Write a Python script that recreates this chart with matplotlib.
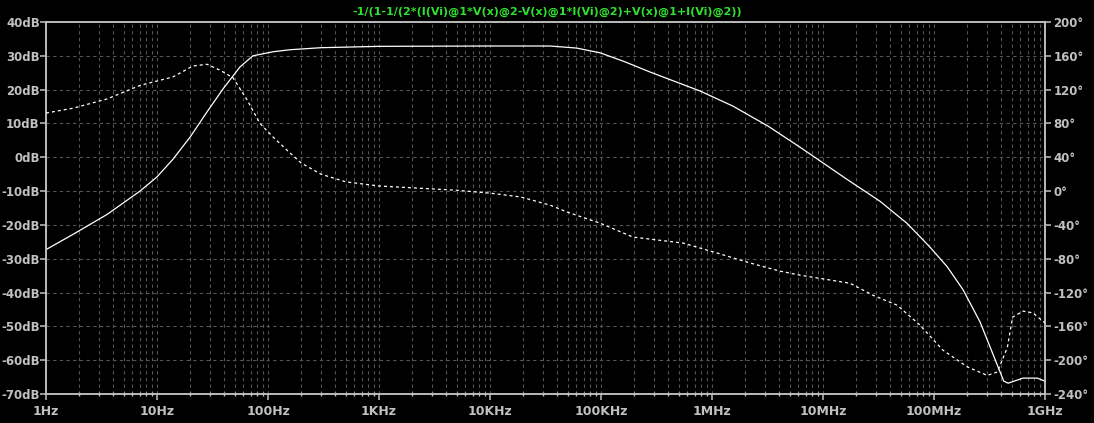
import numpy as np
import matplotlib
matplotlib.use("Agg")
import matplotlib.pyplot as plt
from matplotlib.ticker import FixedLocator, LogLocator, NullFormatter

# magnitude trace (solid)
mag_freq = [1, 1.75, 3.55, 7.03, 10, 13.9, 19.8, 28.2, 39.3, 55.9, 73, 111, 158,
            300, 1e3, 1e4, 3.47e4, 6e4, 9.8e4, 1.65e5, 2.77e5, 7.8e5, 1.55e6,
            3.2e6, 6.2e6, 1.64e7, 3.26e7, 5.7e7, 9.1e7, 1.31e8, 1.83e8, 2.6e8,
            3.81e8, 4.25e8, 4.66e8, 6.34e8, 8.5e8, 1e9]
mag_db = [-27.3, -22.8, -16.9, -10.0, -5.8, -0.6, 5.9, 13.4, 20.2, 26.7, 30.0, 31.2, 31.8,
          32.4, 32.8, 32.9, 32.9, 32.3, 30.9, 28.2, 25.2, 19.6, 15.1,
          9.2, 3.0, -6.5, -13.0, -19.5, -26.4, -32.3, -39.2, -48.7,
          -62.3, -66.2, -66.8, -65.3, -65.3, -66.2]

# phase trace (dashed), right axis
ph_freq = [1, 1.75, 3.55, 7.03, 13.9, 21.1, 28.2, 37, 48.4, 64.7, 84.7, 111, 158,
           200, 300, 500, 1e3, 5e3, 1e4, 1.9e4, 3.47e4, 5e4, 9.8e4, 1.94e5, 5.5e5,
           1.12e6, 2.2e6, 4.1e6, 6.2e6, 1.75e7, 2.8e7, 4.66e7, 7.4e7, 1.2e8,
           2e8, 3.02e8, 3.72e8, 4.58e8, 5.11e8, 6.34e8, 7.77e8, 1e9]
ph_deg = [92.3, 98, 109, 125, 135, 148, 150, 143, 134, 108, 80, 64, 45,
          33, 20, 11, 6, 1, -2.4, -7, -16.6, -25, -37.9, -54.4, -61.5,
          -73.4, -85, -94.7, -99.4, -109, -123, -135, -158, -188,
          -208, -218, -214, -185, -149, -142, -144, -156]

x_ticks = [1, 10, 100, 1e3, 1e4, 1e5, 1e6, 1e7, 1e8, 1e9]
x_labels = ["1Hz", "10Hz", "100Hz", "1KHz", "10KHz", "100KHz", "1MHz", "10MHz", "100MHz", "1GHz"]
db_ticks = list(range(-70, 41, 10))
deg_ticks = list(range(-240, 201, 40))

title = "-1/(1-1/(2*(I(Vi)@1*V(x)@2-V(x)@1*I(Vi)@2)+V(x)@1+I(Vi)@2))"

fg = "#c0c0c0"
grid_c = "#555555"
fig = plt.figure(figsize=(10.94, 4.23), dpi=100, facecolor="black")
ax = fig.add_axes([46 / 1094, 1 - 394 / 423, 999 / 1094, 372 / 423])
ax.set_facecolor("black")
ax.set_xscale("log")
ax.set_xlim(1, 1e9)
ax.set_ylim(-70, 40)

ax.xaxis.set_major_locator(FixedLocator(x_ticks))
ax.xaxis.set_minor_locator(LogLocator(base=10, subs=np.arange(2, 10), numticks=20))
ax.xaxis.set_minor_formatter(NullFormatter())
ax.set_xticks(x_ticks)
ax.set_xticklabels(x_labels)
ax.set_yticks(db_ticks)
ax.set_yticklabels([f"{v}dB" for v in db_ticks])

ax.grid(True, which="both", axis="x", color=grid_c, linestyle=(0, (3, 3)), linewidth=0.8)
ax.grid(True, which="major", axis="y", color=grid_c, linestyle=(0, (3, 3)), linewidth=0.8)

for sp in ax.spines.values():
    sp.set_color(fg)
    sp.set_linewidth(1.1)

ax.tick_params(axis="y", which="major", colors=fg, length=4, width=1.1, labelsize=8.5, pad=0.5)
ax.tick_params(axis="x", which="major", colors=fg, length=4.5, width=1.1, labelsize=9, pad=3.5)
ax.tick_params(axis="x", which="minor", colors=fg, length=3, width=1, direction="inout")
for t in ax.get_xticklabels() + ax.get_yticklabels():
    t.set_fontweight("bold")

ax.plot(mag_freq, mag_db, color="white", linewidth=0.9, zorder=3)

ax2 = ax.twinx()
ax2.set_ylim(-240, 200)
ax2.set_yticks(deg_ticks)
ax2.set_yticklabels([f"{v}\u00b0" for v in deg_ticks])
ax2.tick_params(axis="y", colors=fg, length=4.5, width=1.1, labelsize=8.5, pad=1.5)
for t in ax2.get_yticklabels():
    t.set_fontweight("bold")
for sp in ax2.spines.values():
    sp.set_color(fg)
    sp.set_linewidth(1.1)
ax2.plot(ph_freq, ph_deg, color="white", linewidth=0.9, linestyle=(0, (2.4, 2.4)), zorder=3)

fig.text(0.5, 1 - 12 / 423, title, color="#30e030", fontsize=8, fontweight="bold",
         ha="center", va="center")

fig.savefig("out.png", dpi=100, facecolor="black")
